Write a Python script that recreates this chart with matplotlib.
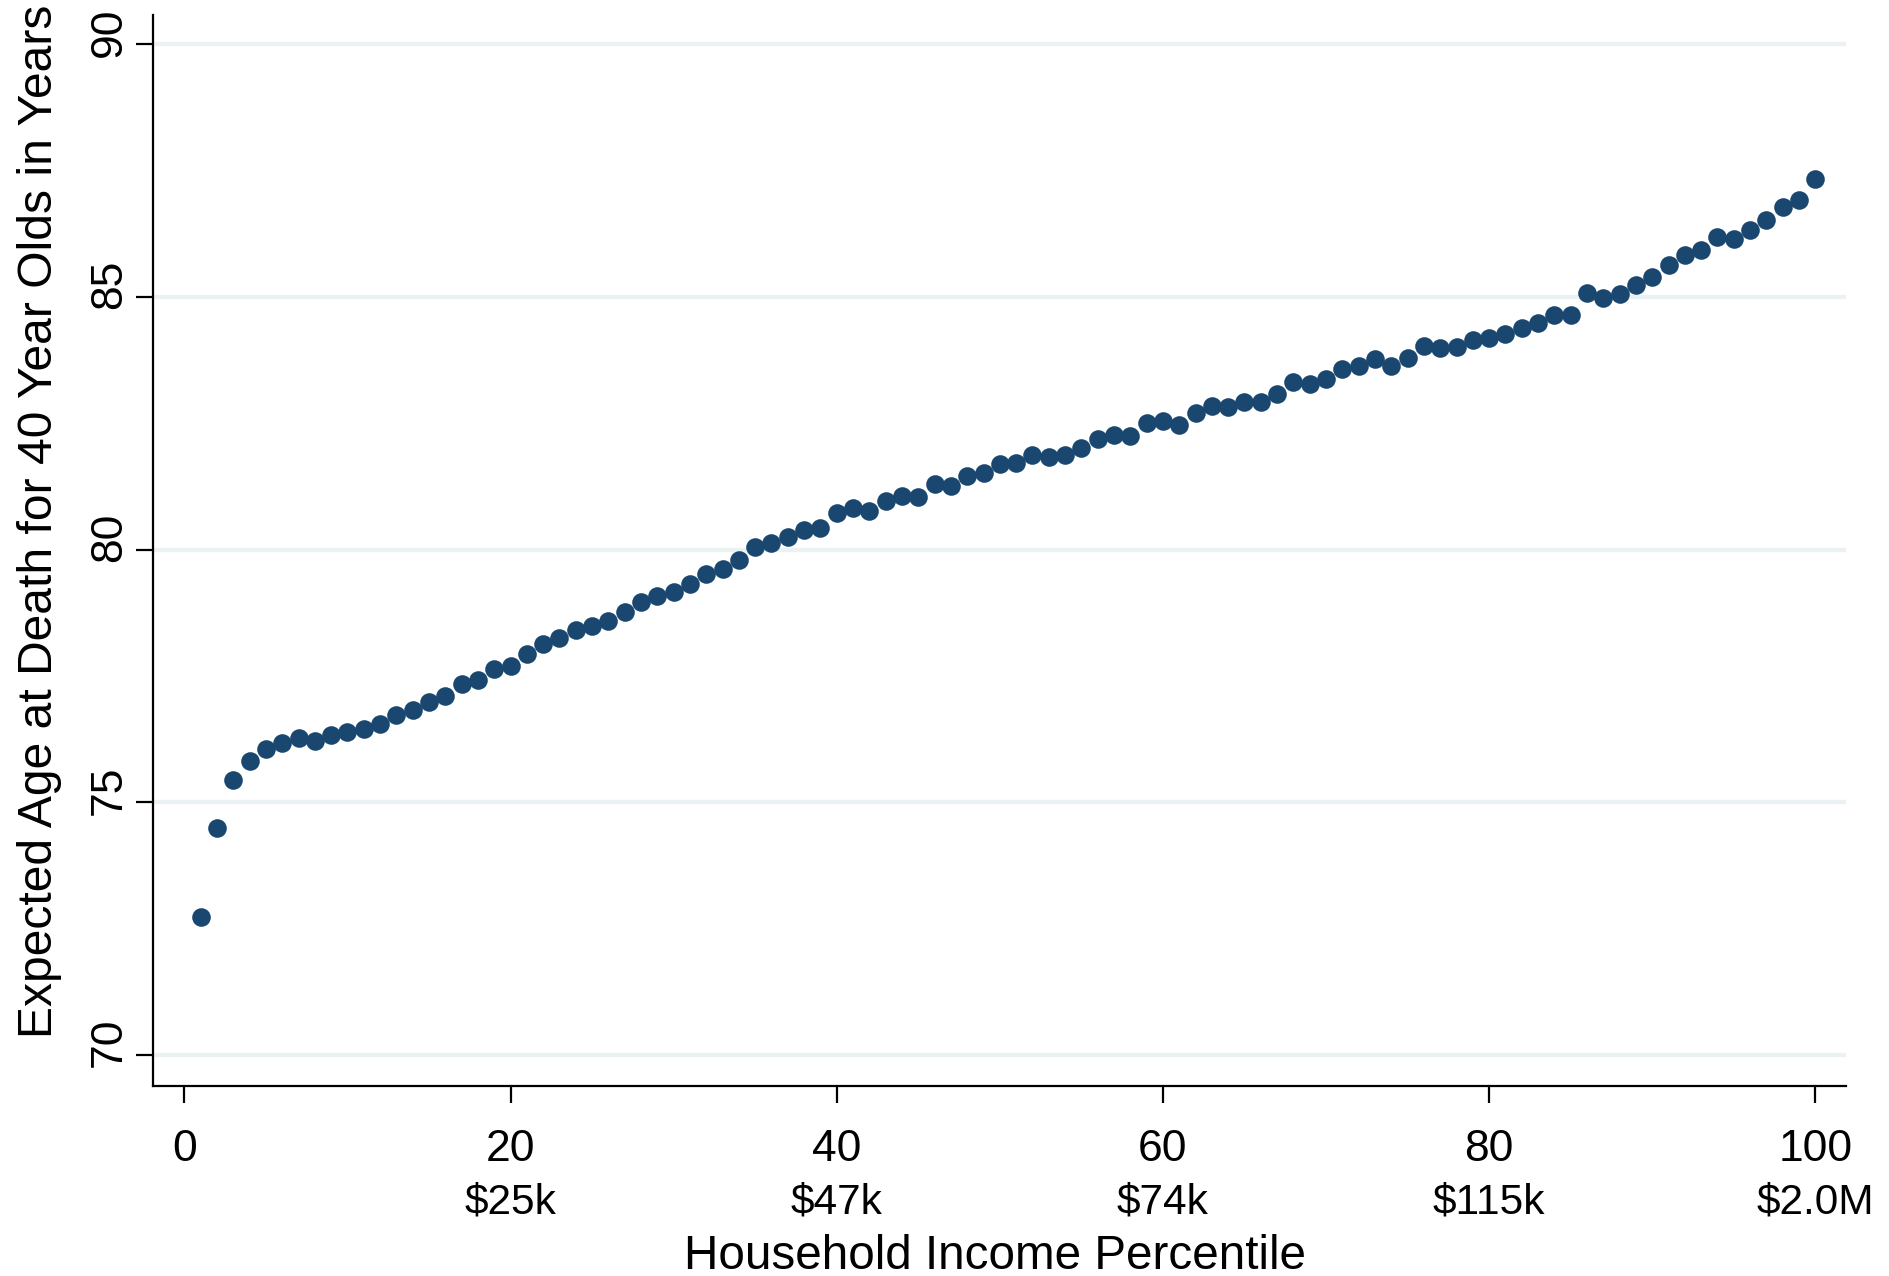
import numpy as np
import matplotlib
matplotlib.use('Agg')
import matplotlib.pyplot as plt
import matplotlib.transforms as mtransforms

plt.rcParams['font.family'] = ['Liberation Sans', 'DejaVu Sans']

percentile = list(range(1, 101))
life_exp = [
    72.74, 74.49, 75.44, 75.83, 76.05, 76.18, 76.27, 76.21, 76.34, 76.39,
    76.46, 76.55, 76.74, 76.82, 76.99, 77.11, 77.35, 77.43, 77.64, 77.70,
    77.93, 78.13, 78.25, 78.42, 78.49, 78.60, 78.76, 78.97, 79.08, 79.17,
    79.32, 79.52, 79.61, 79.79, 80.05, 80.14, 80.26, 80.39, 80.44, 80.72,
    80.83, 80.76, 80.97, 81.06, 81.04, 81.31, 81.27, 81.46, 81.52, 81.69,
    81.71, 81.87, 81.83, 81.87, 82.01, 82.19, 82.28, 82.26, 82.51, 82.55,
    82.47, 82.70, 82.84, 82.82, 82.93, 82.93, 83.08, 83.32, 83.28, 83.37,
    83.58, 83.64, 83.77, 83.64, 83.79, 84.04, 83.99, 84.01, 84.15, 84.18,
    84.27, 84.38, 84.48, 84.65, 84.65, 85.08, 84.99, 85.06, 85.24, 85.40,
    85.64, 85.83, 85.93, 86.18, 86.15, 86.33, 86.53, 86.78, 86.91, 87.33,
]
x_ticks = [0, 20, 40, 60, 80, 100]
income_ticks = [20, 40, 60, 80, 100]
income_labels = ['$25k', '$47k', '$74k', '$115k', '$2.0M']
y_ticks = [70, 75, 80, 85, 90]

NAVY = '#1A476F'
GRID = '#EAF2F3'


def graph():
    fig = plt.figure(figsize=(18.9, 12.76), dpi=100)
    ax = fig.add_axes([152.7 / 1890, 1 - 1086 / 1276, (1846 - 152.7) / 1890, (1086 - 15) / 1276])

    ax.plot(percentile, life_exp, 'o', color=NAVY, markersize=13.4, markeredgewidth=0, zorder=3)

    ax.set_xlim(-1.94, 101.88)
    ax.set_ylim(69.39, 90.58)

    for yv in y_ticks:
        ax.axhline(yv, color=GRID, linewidth=3.1, zorder=1)

    ax.spines['top'].set_visible(False)
    ax.spines['right'].set_visible(False)
    for s in ['left', 'bottom']:
        ax.spines[s].set_linewidth(1.6)

    ax.set_xticks(x_ticks)
    ax.set_xticklabels([str(v) for v in x_ticks])
    ax.set_yticks(y_ticks)
    ax.set_yticklabels([str(v) for v in y_ticks], rotation=90, va='center')
    ax.tick_params(axis='x', length=12.5, width=1.6, pad=18.5, labelsize=32)
    ax.tick_params(axis='y', length=12.5, width=1.6, pad=4, labelsize=32)

    # Stata puts the rotated y labels a bit above the tick
    shift = mtransforms.ScaledTranslation(0, 12.5 / 100, fig.dpi_scale_trans)
    for lab in ax.get_yticklabels():
        lab.set_transform(lab.get_transform() + shift)

    # second row of x labels: income level at the percentile
    trans = mtransforms.offset_copy(ax.get_xaxis_transform(), fig=fig, x=0, y=-128, units='dots')
    for xv, lab in zip(income_ticks, income_labels):
        ax.text(xv, 0, lab, transform=trans, ha='center', va='baseline', fontsize=30.5)

    fig.text(51.7 / 1890, 1 - 521.5 / 1276, 'Expected Age at Death for 40 Year Olds in Years',
             rotation=90, rotation_mode='anchor', ha='center', va='baseline', fontsize=34.6)
    fig.text(995.5 / 1890, 1 - 1269 / 1276, 'Household Income Percentile',
             ha='center', va='baseline', fontsize=34.3)

    fig.savefig('out.png', dpi=100, facecolor='white')


if __name__ == '__main__':
    graph()
